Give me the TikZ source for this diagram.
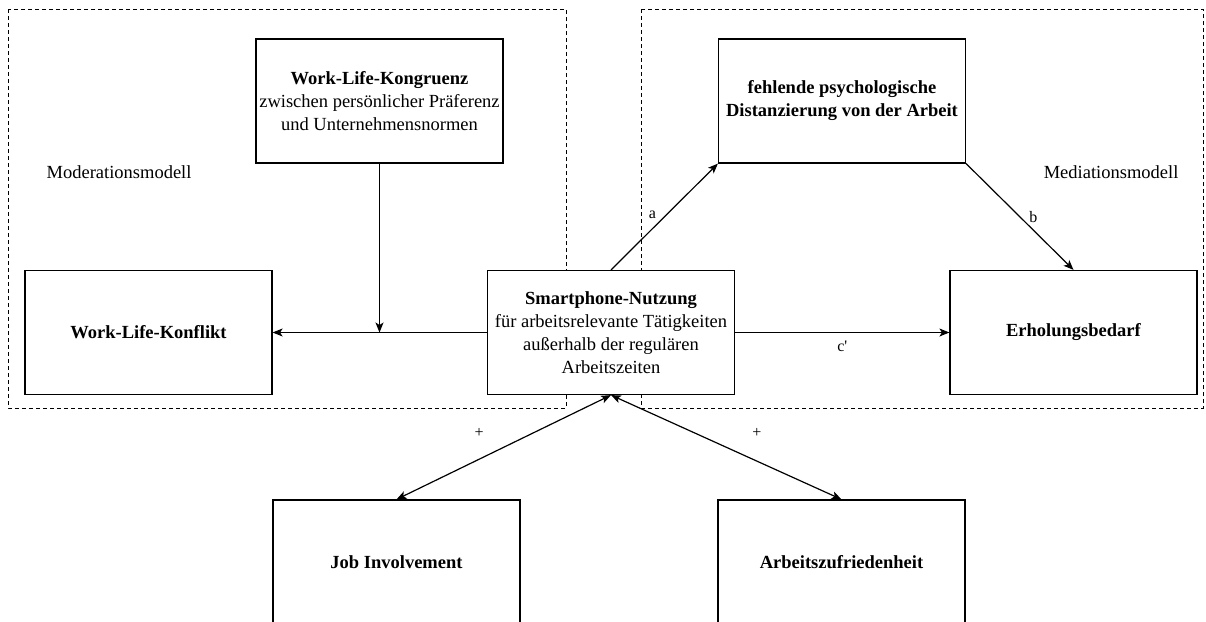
\documentclass[tikz,border=0pt]{standalone}
\usepackage{fontspec}
\setmainfont{Liberation Serif}
\usetikzlibrary{arrows.meta}

\begin{document}
\begin{tikzpicture}[x=1pt,y=-1pt,>={Stealth[length=10pt,width=8pt,inset=2.5pt]},
  line width=1.2pt,node distance=462.5pt,
  main node/.style={rectangle,draw,fill=white,minimum width=247pt,minimum height=124pt,
    inner sep=0pt,align=center,font=\fontsize{18.5}{23}\selectfont},
  frame/.style={draw,line width=0.9pt,dash pattern=on 4pt off 3pt},
  model label/.style={inner sep=0pt,font=\fontsize{18.5}{22}\selectfont},
  path label/.style={inner sep=0pt,font=\fontsize{16}{18}\selectfont}]
  \useasboundingbox (0,0) rectangle (1206,621);

  % Rahmen der beiden Modelle
  \draw[frame] (8,9) rectangle (566,408);
  \draw[frame] (641,9) rectangle (1203,408);
  \node[model label,anchor=west] (moderation) at (46,172) {Moderationsmodell};
  \node[model label,anchor=east] (mediation) at (1179,172) {Mediationsmodell};

  \node[main node] (konflikt) at (148.5,332.5) {\textbf{Work-Life-Konflikt}};
  \node[main node] (smartphone) [right of=konflikt] {\textbf{Smartphone-Nutzung}\\
    für arbeitsrelevante Tätigkeiten\\ außerhalb der regulären\\ Arbeitszeiten};
  \node[main node] (erholung) [right of=smartphone] {\textbf{Erholungsbedarf}};
  \node[main node] (kongruenz) at (379.5,101) {\textbf{Work-Life-Kongruenz}\\
    zwischen persönlicher Präferenz\\ und Unternehmensnormen};
  \node[main node] (distanz) at (842,101) {\textbf{fehlende psychologische}\\
    \textbf{Distanzierung von der Arbeit}};
  \node[main node] (involvement) at (396.5,562) {\textbf{Job Involvement}};
  \node[main node] (zufriedenheit) at (841.5,562) {\textbf{Arbeitszufriedenheit}};

  \coordinate (moderator) at (kongruenz.south |- konflikt.east);

  \draw[->] (smartphone) -- (konflikt);
  \draw[->] (kongruenz) -- (moderator);
  \draw[->] (smartphone) -- node[path label,below=8pt] {c\textquotesingle} (erholung);
  \draw[->] (smartphone.north) -- node[path label,pos=0.52,left=10pt] {a} (distanz.south west);
  \draw[->] (distanz.south east) -- node[path label,pos=0.5,right=9pt] {b} (erholung.north);
  \draw[<->] (smartphone.south) -- node[path label,pos=0.615,above=21pt] {+} (involvement.north);
  \draw[<->] (smartphone.south) -- node[path label,pos=0.633,above=23pt] {+} (zufriedenheit.north);
\end{tikzpicture}
\end{document}
